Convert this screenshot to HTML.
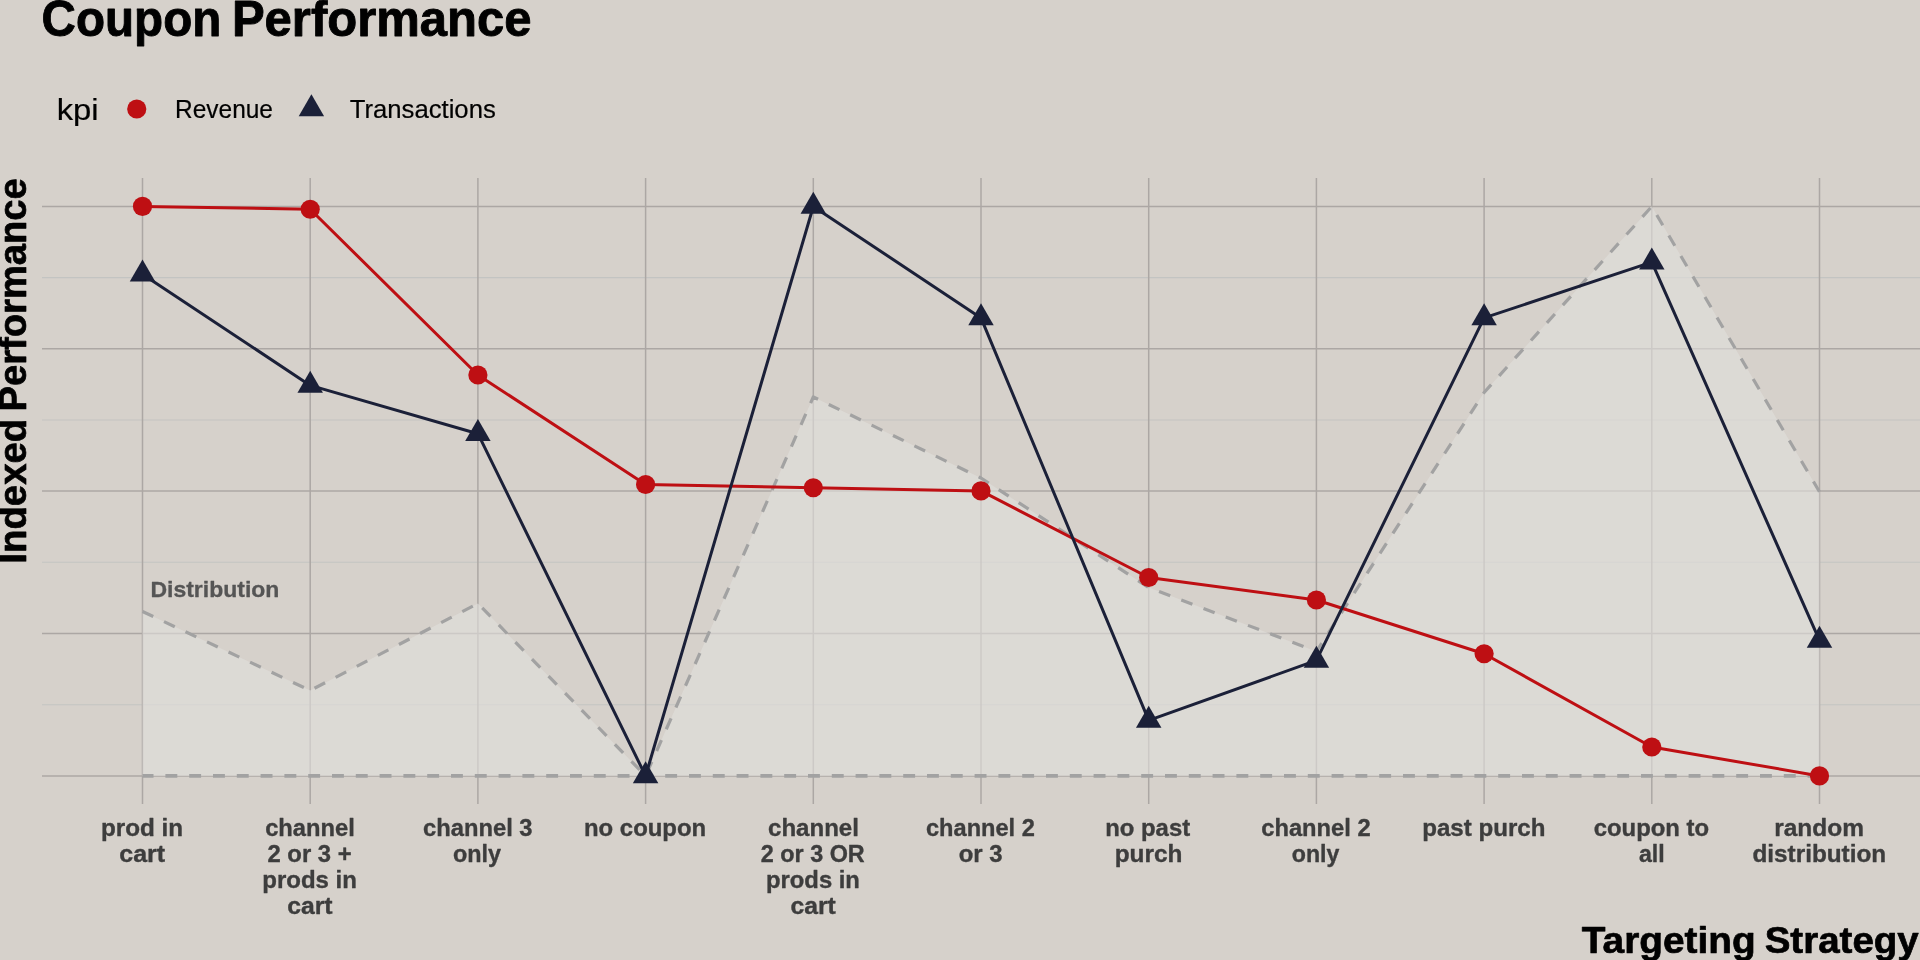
<!DOCTYPE html>
<html lang="en"><head><meta charset="utf-8"><title>Coupon Performance</title>
<style>html,body{margin:0;padding:0;background:#d6d1cb;overflow:hidden}svg{display:block}text{font-family:"Liberation Sans",Arial,sans-serif}</style></head><body>
<svg width="1920" height="960" viewBox="0 0 1920 960">
<rect width="1920" height="960" fill="#d6d1cb"/>
<g stroke="#c3c4c2" stroke-width="1.1" fill="none">
<line x1="42" x2="1920" y1="277.6" y2="277.6"/>
<line x1="42" x2="1920" y1="419.95" y2="419.95"/>
<line x1="42" x2="1920" y1="562.3" y2="562.3"/>
<line x1="42" x2="1920" y1="704.7" y2="704.7"/>
</g>
<g stroke="#aca7a4" stroke-width="1.5" fill="none">
<line x1="42" x2="1920" y1="206.4" y2="206.4"/>
<line x1="42" x2="1920" y1="348.8" y2="348.8"/>
<line x1="42" x2="1920" y1="491.1" y2="491.1"/>
<line x1="42" x2="1920" y1="633.5" y2="633.5"/>
<line x1="42" x2="1920" y1="775.9" y2="775.9"/>
<line x1="142.5" x2="142.5" y1="178.0" y2="803.9"/>
<line x1="310.2" x2="310.2" y1="178.0" y2="803.9"/>
<line x1="477.9" x2="477.9" y1="178.0" y2="803.9"/>
<line x1="645.6" x2="645.6" y1="178.0" y2="803.9"/>
<line x1="813.3" x2="813.3" y1="178.0" y2="803.9"/>
<line x1="981" x2="981" y1="178.0" y2="803.9"/>
<line x1="1148.7" x2="1148.7" y1="178.0" y2="803.9"/>
<line x1="1316.4" x2="1316.4" y1="178.0" y2="803.9"/>
<line x1="1484.1" x2="1484.1" y1="178.0" y2="803.9"/>
<line x1="1651.8" x2="1651.8" y1="178.0" y2="803.9"/>
<line x1="1819.5" x2="1819.5" y1="178.0" y2="803.9"/>
</g>
<polygon points="142.5,611.5 310.2,690.5 477.9,603.5 645.6,775.9 813.3,397 981,478 1148.7,587.5 1316.4,651.5 1484.1,392.5 1651.8,206.5 1819.5,491.8 1819.5,775.9 142.5,775.9" fill="#e0dfdc" fill-opacity="0.62"/>
<g stroke="#a2a2a2" stroke-width="3.0" fill="none" stroke-linejoin="round">
<polyline points="142.5,611.5 310.2,690.5 477.9,603.5 645.6,775.9 813.3,397 981,478 1148.7,587.5 1316.4,651.5 1484.1,392.5 1651.8,206.5 1819.5,491.8" stroke-dasharray="11.89 11.89" stroke-width="3.2"/>
<polyline points="1819.5,775.9 142.5,775.9" stroke-dasharray="11.9 11.9" stroke-width="3.7"/>
</g>
<polyline points="142.5,206.4 310.2,209.25 477.9,375 645.6,484.5 813.3,487.75 981,490.9 1148.7,577.5 1316.4,600 1484.1,653.75 1651.8,747 1819.5,775.9" fill="none" stroke="#be0f13" stroke-width="3.0" stroke-linejoin="round"/>
<polyline points="142.5,274.2 310.2,385.4 477.9,433.7 645.6,775.9 813.3,206.5 981,317.9 1148.7,720.4 1316.4,660.4 1484.1,317.9 1651.8,262.2 1819.5,640.4" fill="none" stroke="#1b2038" stroke-width="3.0" stroke-linejoin="round"/>
<g fill="#be0f13">
<circle cx="142.5" cy="206.4" r="9.6"/>
<circle cx="310.2" cy="209.25" r="9.6"/>
<circle cx="477.9" cy="375" r="9.6"/>
<circle cx="645.6" cy="484.5" r="9.6"/>
<circle cx="813.3" cy="487.75" r="9.6"/>
<circle cx="981" cy="490.9" r="9.6"/>
<circle cx="1148.7" cy="577.5" r="9.6"/>
<circle cx="1316.4" cy="600" r="9.6"/>
<circle cx="1484.1" cy="653.75" r="9.6"/>
<circle cx="1651.8" cy="747" r="9.6"/>
<circle cx="1819.5" cy="775.9" r="9.6"/>
</g>
<g fill="#1b2038">
<polygon points="142.5,259.5 155.23,281.55 129.77,281.55"/>
<polygon points="310.2,370.7 322.93,392.75 297.47,392.75"/>
<polygon points="477.9,419 490.63,441.05 465.17,441.05"/>
<polygon points="645.6,761.2 658.33,783.25 632.87,783.25"/>
<polygon points="813.3,191.8 826.03,213.85 800.57,213.85"/>
<polygon points="981,303.2 993.73,325.25 968.27,325.25"/>
<polygon points="1148.7,705.7 1161.43,727.75 1135.97,727.75"/>
<polygon points="1316.4,645.7 1329.13,667.75 1303.67,667.75"/>
<polygon points="1484.1,303.2 1496.83,325.25 1471.37,325.25"/>
<polygon points="1651.8,247.5 1664.53,269.55 1639.07,269.55"/>
<polygon points="1819.5,625.7 1832.23,647.75 1806.77,647.75"/>
</g>
<circle cx="136.75" cy="109" r="9.6" fill="#be0f13"/>
<polygon points="311.4,94.24 324.1,116.23 298.7,116.23" fill="#1b2038"/>
<g opacity="0.999">
<text x="41.61" y="35.6" font-size="49.6" font-weight="700" fill="#000" stroke="#000" stroke-width="0.9" stroke-linejoin="round" textLength="179.69" lengthAdjust="spacingAndGlyphs">Coupon</text>
<text x="231.94" y="35.6" font-size="49.6" font-weight="700" fill="#000" stroke="#000" stroke-width="0.9" stroke-linejoin="round" textLength="299.58" lengthAdjust="spacingAndGlyphs">Performance</text>
<text x="56.65" y="119.6" font-size="29" fill="#000" stroke="#000" stroke-width="0.2" stroke-linejoin="round" textLength="42.02" lengthAdjust="spacingAndGlyphs">kpi</text>
<text x="174.99" y="117.8" font-size="25" fill="#000" stroke="#000" stroke-width="0.2" stroke-linejoin="round" textLength="98.01" lengthAdjust="spacingAndGlyphs">Revenue</text>
<text x="349.7" y="117.8" font-size="25" fill="#000" stroke="#000" stroke-width="0.2" stroke-linejoin="round" textLength="146.1" lengthAdjust="spacingAndGlyphs">Transactions</text>
<text x="150.46" y="596.9" font-size="22.4" font-weight="700" fill="#555555" stroke="#555555" stroke-width="0.3" stroke-linejoin="round" textLength="128.95" lengthAdjust="spacingAndGlyphs">Distribution</text>
<text x="1581.8" y="952.8" font-size="37.2" font-weight="700" fill="#000" stroke="#000" stroke-width="0.7" stroke-linejoin="round" textLength="173.88" lengthAdjust="spacingAndGlyphs">Targeting</text>
<text x="1764.7" y="952.8" font-size="37.2" font-weight="700" fill="#000" stroke="#000" stroke-width="0.7" stroke-linejoin="round" textLength="154.06" lengthAdjust="spacingAndGlyphs">Strategy</text>
<text transform="translate(26.2 561.3) rotate(-90)" x="-2.4" y="0" font-size="38.0" font-weight="700" fill="#000" stroke="#000" stroke-width="0.7" stroke-linejoin="round" textLength="144.9" lengthAdjust="spacingAndGlyphs">Indexed</text>
<text transform="translate(26.2 561.3) rotate(-90)" x="149.92" y="0" font-size="38.0" font-weight="700" fill="#000" stroke="#000" stroke-width="0.7" stroke-linejoin="round" textLength="233.13" lengthAdjust="spacingAndGlyphs">Performance</text>
<text x="100.98" y="835.5" font-size="23.2" font-weight="700" fill="#3d3d3d" stroke="#3d3d3d" stroke-width="0.35" stroke-linejoin="round" textLength="82.19" lengthAdjust="spacingAndGlyphs">prod in</text>
<text x="119.22" y="861.5" font-size="23.2" font-weight="700" fill="#3d3d3d" stroke="#3d3d3d" stroke-width="0.35" stroke-linejoin="round" textLength="45.9" lengthAdjust="spacingAndGlyphs">cart</text>
<text x="265.16" y="835.5" font-size="23.2" font-weight="700" fill="#3d3d3d" stroke="#3d3d3d" stroke-width="0.35" stroke-linejoin="round" textLength="89.64" lengthAdjust="spacingAndGlyphs">channel</text>
<text x="267.51" y="861.5" font-size="23.2" font-weight="700" fill="#3d3d3d" stroke="#3d3d3d" stroke-width="0.35" stroke-linejoin="round" textLength="84.13" lengthAdjust="spacingAndGlyphs">2 or 3 +</text>
<text x="262.25" y="887.5" font-size="23.2" font-weight="700" fill="#3d3d3d" stroke="#3d3d3d" stroke-width="0.35" stroke-linejoin="round" textLength="94.66" lengthAdjust="spacingAndGlyphs">prods in</text>
<text x="287.23" y="913.5" font-size="23.2" font-weight="700" fill="#3d3d3d" stroke="#3d3d3d" stroke-width="0.35" stroke-linejoin="round" textLength="45.39" lengthAdjust="spacingAndGlyphs">cart</text>
<text x="423.01" y="835.5" font-size="23.2" font-weight="700" fill="#3d3d3d" stroke="#3d3d3d" stroke-width="0.35" stroke-linejoin="round" textLength="109.58" lengthAdjust="spacingAndGlyphs">channel 3</text>
<text x="453.02" y="861.5" font-size="23.2" font-weight="700" fill="#3d3d3d" stroke="#3d3d3d" stroke-width="0.35" stroke-linejoin="round" textLength="48.08" lengthAdjust="spacingAndGlyphs">only</text>
<text x="584.01" y="835.5" font-size="23.2" font-weight="700" fill="#3d3d3d" stroke="#3d3d3d" stroke-width="0.35" stroke-linejoin="round" textLength="122.15" lengthAdjust="spacingAndGlyphs">no coupon</text>
<text x="768" y="835.5" font-size="23.2" font-weight="700" fill="#3d3d3d" stroke="#3d3d3d" stroke-width="0.35" stroke-linejoin="round" textLength="90.92" lengthAdjust="spacingAndGlyphs">channel</text>
<text x="760.77" y="861.5" font-size="23.2" font-weight="700" fill="#3d3d3d" stroke="#3d3d3d" stroke-width="0.35" stroke-linejoin="round" textLength="103.93" lengthAdjust="spacingAndGlyphs">2 or 3 OR</text>
<text x="766.01" y="887.5" font-size="23.2" font-weight="700" fill="#3d3d3d" stroke="#3d3d3d" stroke-width="0.35" stroke-linejoin="round" textLength="93.89" lengthAdjust="spacingAndGlyphs">prods in</text>
<text x="790.48" y="913.5" font-size="23.2" font-weight="700" fill="#3d3d3d" stroke="#3d3d3d" stroke-width="0.35" stroke-linejoin="round" textLength="45.39" lengthAdjust="spacingAndGlyphs">cart</text>
<text x="926.01" y="835.5" font-size="23.2" font-weight="700" fill="#3d3d3d" stroke="#3d3d3d" stroke-width="0.35" stroke-linejoin="round" textLength="108.82" lengthAdjust="spacingAndGlyphs">channel 2</text>
<text x="958.75" y="861.5" font-size="23.2" font-weight="700" fill="#3d3d3d" stroke="#3d3d3d" stroke-width="0.35" stroke-linejoin="round" textLength="43.84" lengthAdjust="spacingAndGlyphs">or 3</text>
<text x="1105.26" y="835.5" font-size="23.2" font-weight="700" fill="#3d3d3d" stroke="#3d3d3d" stroke-width="0.35" stroke-linejoin="round" textLength="84.86" lengthAdjust="spacingAndGlyphs">no past</text>
<text x="1114.73" y="861.5" font-size="23.2" font-weight="700" fill="#3d3d3d" stroke="#3d3d3d" stroke-width="0.35" stroke-linejoin="round" textLength="67.7" lengthAdjust="spacingAndGlyphs">purch</text>
<text x="1261.26" y="835.5" font-size="23.2" font-weight="700" fill="#3d3d3d" stroke="#3d3d3d" stroke-width="0.35" stroke-linejoin="round" textLength="109.33" lengthAdjust="spacingAndGlyphs">channel 2</text>
<text x="1291.78" y="861.5" font-size="23.2" font-weight="700" fill="#3d3d3d" stroke="#3d3d3d" stroke-width="0.35" stroke-linejoin="round" textLength="47.58" lengthAdjust="spacingAndGlyphs">only</text>
<text x="1422.24" y="835.5" font-size="23.2" font-weight="700" fill="#3d3d3d" stroke="#3d3d3d" stroke-width="0.35" stroke-linejoin="round" textLength="123.17" lengthAdjust="spacingAndGlyphs">past purch</text>
<text x="1593.75" y="835.5" font-size="23.2" font-weight="700" fill="#3d3d3d" stroke="#3d3d3d" stroke-width="0.35" stroke-linejoin="round" textLength="115.28" lengthAdjust="spacingAndGlyphs">coupon to</text>
<text x="1638.89" y="861.5" font-size="23.2" font-weight="700" fill="#3d3d3d" stroke="#3d3d3d" stroke-width="0.35" stroke-linejoin="round" textLength="25.73" lengthAdjust="spacingAndGlyphs">all</text>
<text x="1774.22" y="835.5" font-size="23.2" font-weight="700" fill="#3d3d3d" stroke="#3d3d3d" stroke-width="0.35" stroke-linejoin="round" textLength="89.77" lengthAdjust="spacingAndGlyphs">random</text>
<text x="1752.49" y="861.5" font-size="23.2" font-weight="700" fill="#3d3d3d" stroke="#3d3d3d" stroke-width="0.35" stroke-linejoin="round" textLength="133.68" lengthAdjust="spacingAndGlyphs">distribution</text>
</g>
</svg></body></html>
